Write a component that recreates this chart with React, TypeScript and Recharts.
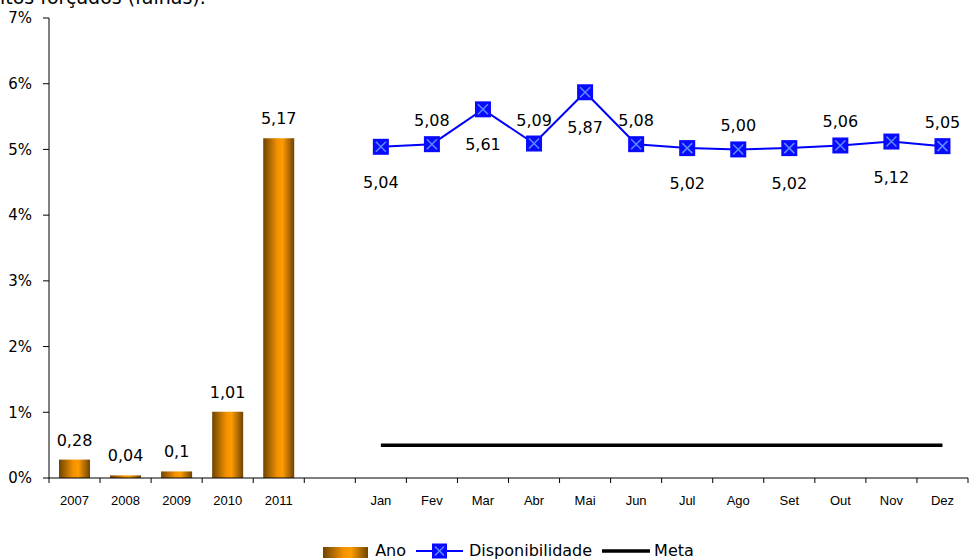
import React from 'react';
import {
  Bar,
  ComposedChart,
  LabelList,
  Legend,
  Line,
  XAxis,
  YAxis,
} from 'recharts';

const anos = ['2007', '2008', '2009', '2010', '2011'];
const valoresAno = [0.28, 0.04, 0.1, 1.01, 5.17];

const meses = ['Jan', 'Fev', 'Mar', 'Abr', 'Mai', 'Jun', 'Jul', 'Ago', 'Set', 'Out', 'Nov', 'Dez'];
const disponibilidade = [5.04, 5.08, 5.61, 5.09, 5.87, 5.08, 5.02, 5.0, 5.02, 5.06, 5.12, 5.05];
const meta = [0.5, 0.5, 0.5, 0.5, 0.5, 0.5, 0.5, 0.5, 0.5, 0.5, 0.5, 0.5];

const yTicks = [0, 1, 2, 3, 4, 5, 6, 7];

const W = 971;
const H = 559;
const MARGIN = { top: 18, right: 3, left: 0, bottom: 0 };
const Y_W = 49;

const dados = [
  ...anos.map((a, i) => ({ cat: a, ano: valoresAno[i] })),
  { cat: '' },
  ...meses.map((m, i) => ({ cat: m, disp: disponibilidade[i], meta: meta[i] })),
];

const band = (W - MARGIN.left - MARGIN.right - Y_W) / dados.length;

const fontLabel = '"DejaVu Sans", Verdana, sans-serif';

// tick labels centred, tick marks on the category boundaries
const XTick = (props: any) => {
  const { x, y, payload, index } = props;
  const last = index === dados.length - 1;
  return (
    <g>
      <line x1={x - band / 2} x2={x - band / 2} y1={y} y2={y + 5} stroke="#000" />
      {last && <line x1={x + band / 2} x2={x + band / 2} y1={y} y2={y + 5} stroke="#000" />}
      <text
        x={x}
        y={y + 27}
        textAnchor="middle"
        fontSize={13}
        fontFamily='"Liberation Sans", Arial, sans-serif'
        fill="#000"
      >
        {payload.value}
      </text>
    </g>
  );
};

const Marcador = (props: any) => {
  const { cx, cy, index } = props;
  if (cx == null || cy == null || props.value == null) return <g key={`d-${index}`} />;
  const s = 8;
  return (
    <g key={`d-${index}`}>
      <rect x={cx - s} y={cy - s} width={s * 2} height={s * 2} fill="#0a0aff" />
      <line x1={cx - 5} y1={cy - 5} x2={cx + 5} y2={cy + 5} stroke="#5a8cff" strokeWidth={1.5} />
      <line x1={cx - 5} y1={cy + 5} x2={cx + 5} y2={cy - 5} stroke="#5a8cff" strokeWidth={1.5} />
    </g>
  );
};

const RotuloDisp = (props: any) => {
  const { x, y, value, index } = props;
  if (value == null) return null;
  const abaixo = index % 2 === 0;
  return (
    <text
      x={x}
      y={abaixo ? y + 41 : y - 18}
      textAnchor="middle"
      fontSize={16}
      fontFamily={fontLabel}
      fill="#000"
    >
      {Number(value).toFixed(2).replace('.', ',')}
    </text>
  );
};

const Legenda = () => (
  <div
    style={{
      height: 50,
      display: 'flex',
      justifyContent: 'center',
      alignItems: 'flex-end',
      fontFamily: fontLabel,
      fontSize: 16,
      color: '#000',
    }}
  >
    <div style={{ display: 'flex', alignItems: 'center', height: 16, lineHeight: '16px' }}>
      <div
        style={{
          width: 45,
          height: 11,
          background: 'linear-gradient(to right, #6e4400, #f29000 45%, #ff9c00 62%, #6e4400)',
          marginTop: 3,
        }}
      />
      <span style={{ marginLeft: 7 }}>Ano</span>
      <svg width={47} height={16} style={{ marginLeft: 10 }}>
        <line x1={0} x2={47} y1={8} y2={8} stroke="#0000ff" strokeWidth={2} />
        <rect x={16} y={0.5} width={15} height={15} fill="#0a0aff" />
        <line x1={19} y1={3.5} x2={28} y2={12.5} stroke="#5a8cff" strokeWidth={1.5} />
        <line x1={19} y1={12.5} x2={28} y2={3.5} stroke="#5a8cff" strokeWidth={1.5} />
      </svg>
      <span style={{ marginLeft: 6 }}>Disponibilidade</span>
      <svg width={48} height={16} style={{ marginLeft: 10 }}>
        <line x1={0} x2={48} y1={8} y2={8} stroke="#000" strokeWidth={3.5} />
      </svg>
      <span style={{ marginLeft: 4 }}>Meta</span>
    </div>
  </div>
);

export default function App() {
  return (
    <div
      style={{
        position: 'absolute',
        left: 0,
        top: 0,
        width: W,
        height: H,
        overflow: 'hidden',
        background: '#fff',
      }}
    >
      <div
        style={{
          position: 'absolute',
          left: 0,
          top: -14,
          fontFamily: fontLabel,
          fontSize: 19,
          whiteSpace: 'nowrap',
          color: '#000',
        }}
      >
        itos forçados (falhas).
      </div>
      <ComposedChart width={W} height={H} data={dados} margin={MARGIN}>
        <defs>
          <linearGradient id="gradAno" x1="0" y1="0" x2="1" y2="0">
            <stop offset="0%" stopColor="#6e4400" />
            <stop offset="45%" stopColor="#f29000" />
            <stop offset="62%" stopColor="#ff9c00" />
            <stop offset="100%" stopColor="#6e4400" />
          </linearGradient>
        </defs>
        <XAxis
          dataKey="cat"
          interval={0}
          height={31}
          axisLine={{ stroke: '#000' }}
          tickLine={false}
          tickSize={0}
          tickMargin={0}
          tick={<XTick />}
        />
        <YAxis
          width={Y_W}
          domain={[0, 7]}
          ticks={yTicks}
          tickFormatter={(v: number) => `${v}%`}
          axisLine={{ stroke: '#000' }}
          tickLine={{ stroke: '#000' }}
          tickSize={6}
          tickMargin={11}
          tick={{ fill: '#000', fontSize: 15, fontFamily: fontLabel }}
        />
        <Legend
          verticalAlign="bottom"
          content={<Legenda />}
          wrapperStyle={{ left: MARGIN.left + Y_W, width: W - MARGIN.left - MARGIN.right - Y_W }}
        />
        <Bar dataKey="ano" name="Ano" barSize={31} fill="url(#gradAno)" isAnimationActive={false}>
          <LabelList
            dataKey="ano"
            position="top"
            offset={14}
            formatter={(v: any) => (v == null ? '' : String(v).replace('.', ','))}
            style={{ fill: '#000', fontSize: 16, fontFamily: fontLabel }}
          />
        </Bar>
        <Line
          dataKey="meta"
          name="Meta"
          stroke="#000"
          strokeWidth={3.5}
          dot={false}
          activeDot={false}
          isAnimationActive={false}
        />
        <Line
          dataKey="disp"
          name="Disponibilidade"
          stroke="#0000ff"
          strokeWidth={2}
          dot={<Marcador />}
          activeDot={false}
          isAnimationActive={false}
        >
          <LabelList dataKey="disp" content={<RotuloDisp />} />
        </Line>
      </ComposedChart>
    </div>
  );
}
